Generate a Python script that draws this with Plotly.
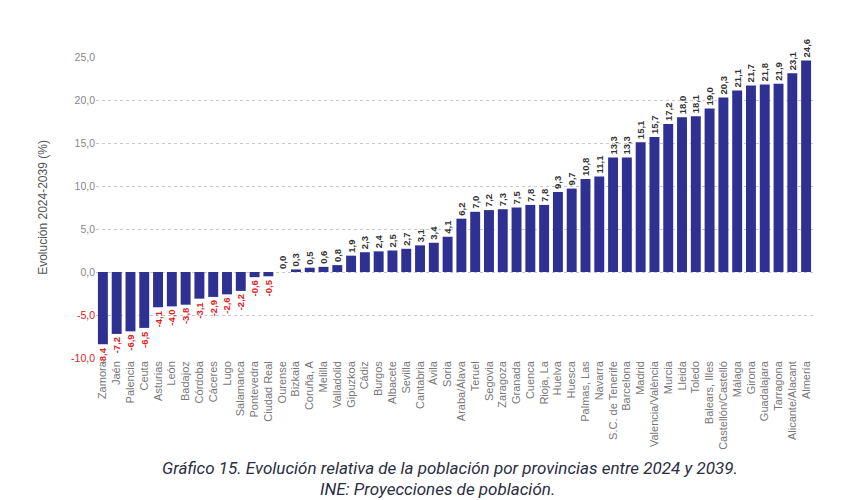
import plotly.graph_objects as go

provincias = [
    'Zamora', 'Jaén', 'Palencia', 'Ceuta', 'Asturias', 'León', 'Badajoz',
    'Córdoba', 'Cáceres', 'Lugo', 'Salamanca', 'Pontevedra', 'Ciudad Real',
    'Ourense', 'Bizkaia', 'Coruña, A', 'Melilla', 'Valladolid', 'Gipuzkoa',
    'Cádiz', 'Burgos', 'Albacete', 'Sevilla', 'Cantabria', 'Ávila', 'Soria',
    'Araba/Álava', 'Teruel', 'Segovia', 'Zaragoza', 'Granada', 'Cuenca',
    'Rioja, La', 'Huelva', 'Huesca', 'Palmas, Las', 'Navarra',
    'S.C. de Tenerife', 'Barcelona', 'Madrid', 'Valencia/València', 'Murcia',
    'Lleida', 'Toledo', 'Balears, Illes', 'Castellón/Castelló', 'Málaga',
    'Girona', 'Guadalajara', 'Tarragona', 'Alicante/Alacant', 'Almería',
]
evolucion = [
    -8.4, -7.2, -6.9, -6.5, -4.1, -4.0, -3.8,
    -3.1, -2.9, -2.6, -2.2, -0.6, -0.5,
    0.0, 0.3, 0.5, 0.6, 0.8, 1.9,
    2.3, 2.4, 2.5, 2.7, 3.1, 3.4, 4.1,
    6.2, 7.0, 7.2, 7.3, 7.5, 7.8,
    7.8, 9.3, 9.7, 10.8, 11.1,
    13.3, 13.3, 15.1, 15.7, 17.2,
    18.0, 18.1, 19.0, 20.3, 21.1,
    21.7, 21.8, 21.9, 23.1, 24.6,
]
y_ticks = [-10, -5, 0, 5, 10, 15, 20, 25]

AZUL = '#2e3192'
ROJO = '#e0201e'
GRIS = '#666666'

etiquetas = [f'<b>{v:.1f}</b>'.replace('.', ',') for v in evolucion]
colores_txt = [ROJO if v < 0 else '#333333' for v in evolucion]
ticktext = [
    (f'<span style="color:{ROJO}">{t:.1f}</span>' if t < 0 else f'{t:.1f}').replace('.', ',')
    for t in y_ticks
]

fig = go.Figure(go.Bar(
    x=provincias,
    y=evolucion,
    marker=dict(color=AZUL, line=dict(width=0)),
    text=etiquetas,
    textposition='outside',
    textangle=-90,
    textfont=dict(size=9.5, color=colores_txt, family='Liberation Sans Narrow, Liberation Sans'),
    cliponaxis=False,
    hovertemplate='%{x}: %{y}<extra></extra>',
))

fig.update_layout(
    width=859, height=500,
    margin=dict(l=88, r=54, t=49, b=150),
    paper_bgcolor='white', plot_bgcolor='white',
    bargap=0.28,
    showlegend=False,
    font=dict(family='Liberation Sans Narrow, Liberation Sans', color=GRIS),
    uniformtext=dict(minsize=8, mode='show'),
)
fig.update_xaxes(
    tickangle=-90, tickfont=dict(size=11, color='#777777'),
    showgrid=False, showline=False, ticks='',
)
fig.update_yaxes(
    range=[-10, 25], tickvals=y_ticks, ticktext=ticktext,
    tickfont=dict(size=10.5, color='#888888'),
    showgrid=True, gridcolor='#c8c8c8', griddash='dot', gridwidth=1,
    zeroline=False, showline=False, ticks='',
    title=dict(text='Evolución 2024-2039 (%)', font=dict(size=12, color='#555555'),
               standoff=20),
)

fig.add_annotation(
    text='<i>Gráfico 15. Evolución relativa de la población por provincias entre 2024 y 2039.</i>',
    xref='paper', yref='paper', x=0.494, y=-0.365, xanchor='center', yanchor='middle',
    showarrow=False, font=dict(family='Roboto', size=17, color='#2b2d42'),
)
fig.add_annotation(
    text='<i>INE: Proyecciones de población.</i>',
    xref='paper', yref='paper', x=0.476, y=-0.435, xanchor='center', yanchor='middle',
    showarrow=False, font=dict(family='Roboto', size=17, color='#2b2d42'),
)

fig.write_html('out.html')
